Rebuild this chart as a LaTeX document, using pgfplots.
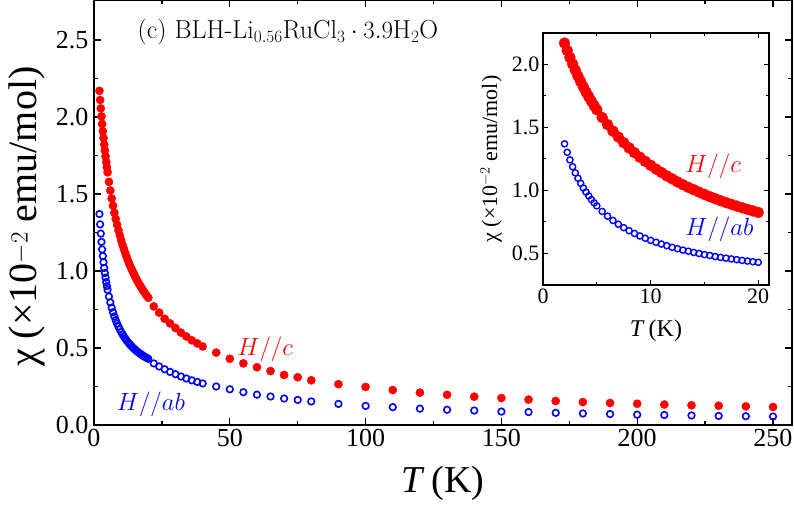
\documentclass[border=0pt]{standalone}
\usepackage{fontspec}
\setmainfont{Liberation Serif}
\usepackage{pgfplots}
\usepackage{pgfplotstable}
\pgfplotsset{compat=1.18}

% Susceptibility (x 10^-2 emu/mol) for H//c and H//ab, dense low-T sweep
\pgfplotstableread{
T     chic   chiab
2.00  2.170  1.370
2.25  2.111  1.303
2.50  2.056  1.243
2.75  2.004  1.189
3.00  1.955  1.140
3.25  1.908  1.097
3.50  1.864  1.057
3.75  1.822  1.020
4.00  1.782  0.987
4.25  1.744  0.957
4.50  1.708  0.928
4.75  1.674  0.902
5.00  1.641  0.878
5.50  1.579  0.834
6.00  1.523  0.796
6.50  1.471  0.762
7.00  1.424  0.732
7.50  1.379  0.705
8.00  1.338  0.681
8.50  1.300  0.659
9.00  1.264  0.639
9.50  1.231  0.621
10.0  1.200  0.604
10.5  1.170  0.589
11.0  1.143  0.575
11.5  1.116  0.562
12.0  1.092  0.549
12.5  1.068  0.538
13.0  1.046  0.527
13.5  1.025  0.518
14.0  1.006  0.508
14.5  0.987  0.500
15.0  0.969  0.491
15.5  0.951  0.484
16.0  0.935  0.476
16.5  0.919  0.469
17.0  0.904  0.463
17.5  0.890  0.457
18.0  0.876  0.451
18.5  0.863  0.445
19.0  0.850  0.440
19.5  0.838  0.435
20.0  0.826  0.430
}\lowT

% Higher-temperature points
\pgfplotstableread{
T     chic   chiab
22    0.770  0.400
24    0.730  0.380
26    0.690  0.362
28    0.660  0.345
30    0.630  0.330
32    0.600  0.315
34    0.575  0.302
36    0.550  0.290
38    0.530  0.280
40    0.510  0.270
45    0.470  0.250
50    0.430  0.232
55    0.400  0.213
60    0.375  0.197
65    0.350  0.185
70    0.325  0.172
75    0.310  0.163
80    0.290  0.153
90    0.265  0.137
100   0.247  0.124
110   0.227  0.116
120   0.210  0.106
130   0.196  0.099
140   0.184  0.094
150   0.175  0.087
160   0.165  0.084
170   0.156  0.079
180   0.149  0.075
190   0.143  0.071
200   0.138  0.067
210   0.133  0.065
220   0.128  0.062
230   0.125  0.059
240   0.121  0.057
250   0.117  0.055
}\highT

\begin{document}
\begin{tikzpicture}
\begin{axis}[
  at={(0pt,0pt)}, anchor=south west,
  scale only axis, width=698pt, height=425pt,
  xmin=0, xmax=257, ymin=0, ymax=2.76,
  xtick={0,50,...,250}, ytick={0,0.5,...,2.5},
  minor tick num=1,
  xtick pos=both, ytick pos=both,
  tick align=inside,
  major tick length=7pt, minor tick length=4pt,
  axis line style={line width=1.6pt},
  every tick/.style={black, line width=1.3pt},
  /pgf/number format/assume math mode=true,
  ticklabel style={font=\fontsize{26}{30}\selectfont},
  yticklabel style={/pgf/number format/fixed, /pgf/number format/fixed zerofill, /pgf/number format/precision=1, xshift=-2pt},
  xticklabel style={yshift=-1pt},
  xlabel={\textit{T}\,(K)},
  xlabel style={font=\fontsize{38}{44}\selectfont, at={(axis description cs:0.5,-0.1365)}, anchor=center},
  ylabel={χ (×10$^{-2}$ emu/mol)},
  ylabel style={font=\fontsize{40}{46}\selectfont, at={(axis description cs:-0.096,0.49)}, anchor=center},
]
\addplot[only marks, mark=*, mark size=4.1pt, color=red] table[x=T, y=chic] {\lowT};
\addplot[only marks, mark=*, mark size=4.1pt, color=red] table[x=T, y=chic] {\highT};
\addplot[only marks, mark=o, mark size=3.3pt, color=blue, mark options={line width=1.6pt}] table[x=T, y=chiab] {\lowT};
\addplot[only marks, mark=o, mark size=3.3pt, color=blue, mark options={line width=1.6pt}] table[x=T, y=chiab] {\highT};
\node[anchor=west, font=\fontsize{26}{30}\selectfont\fontfamily{lmr}\selectfont] at (axis cs:14.8,2.55) {(c) BLH-Li$_{0.56}$RuCl$_3\cdot3.9$H$_2$O};
\node[color=red, font=\fontsize{25}{30}\selectfont] at (axis cs:63,0.49) {$H//c$};
\node[color=blue, font=\fontsize{25}{30}\selectfont] at (axis cs:21,0.135) {$H//ab$};
\end{axis}

\begin{axis}[
  at={(449pt,140pt)}, anchor=south west,
  scale only axis, width=226pt, height=252pt,
  xmin=0, xmax=21, ymin=0.25, ymax=2.25,
  xtick={0,10,20}, ytick={0.5,1.0,...,2.0},
  minor tick num=1,
  xtick pos=both, ytick pos=both,
  tick align=inside,
  major tick length=5pt, minor tick length=3pt,
  axis line style={line width=1.2pt},
  every tick/.style={black, line width=1pt},
  axis background/.style={fill=white},
  /pgf/number format/assume math mode=true,
  ticklabel style={font=\fontsize{22}{26}\selectfont},
  yticklabel style={/pgf/number format/fixed, /pgf/number format/fixed zerofill, /pgf/number format/precision=1},
  xlabel={\textit{T}\,(K)},
  xlabel style={font=\fontsize{24}{28}\selectfont, at={(axis description cs:0.5,-0.18)}, anchor=center},
  ylabel={χ (×10$^{-2}$ emu/mol)},
  ylabel style={font=\fontsize{22}{26}\selectfont, at={(axis description cs:-0.23,0.5)}, anchor=center},
]
\addplot[only marks, mark=*, mark size=5.5pt, color=red] table[x=T, y=chic] {\lowT};
\addplot[only marks, mark=o, mark size=3.1pt, color=blue, mark options={line width=1.4pt}] table[x=T, y=chiab] {\lowT};
\node[color=red, font=\fontsize{25}{30}\selectfont] at (axis cs:15.8,1.19) {$H//c$};
\node[color=blue, font=\fontsize{25}{30}\selectfont] at (axis cs:16.4,0.69) {$H//ab$};
\end{axis}
\pgfresetboundingbox
\path[use as bounding box] (-94pt,-80pt) rectangle (700pt,425pt);
\end{tikzpicture}
\end{document}
